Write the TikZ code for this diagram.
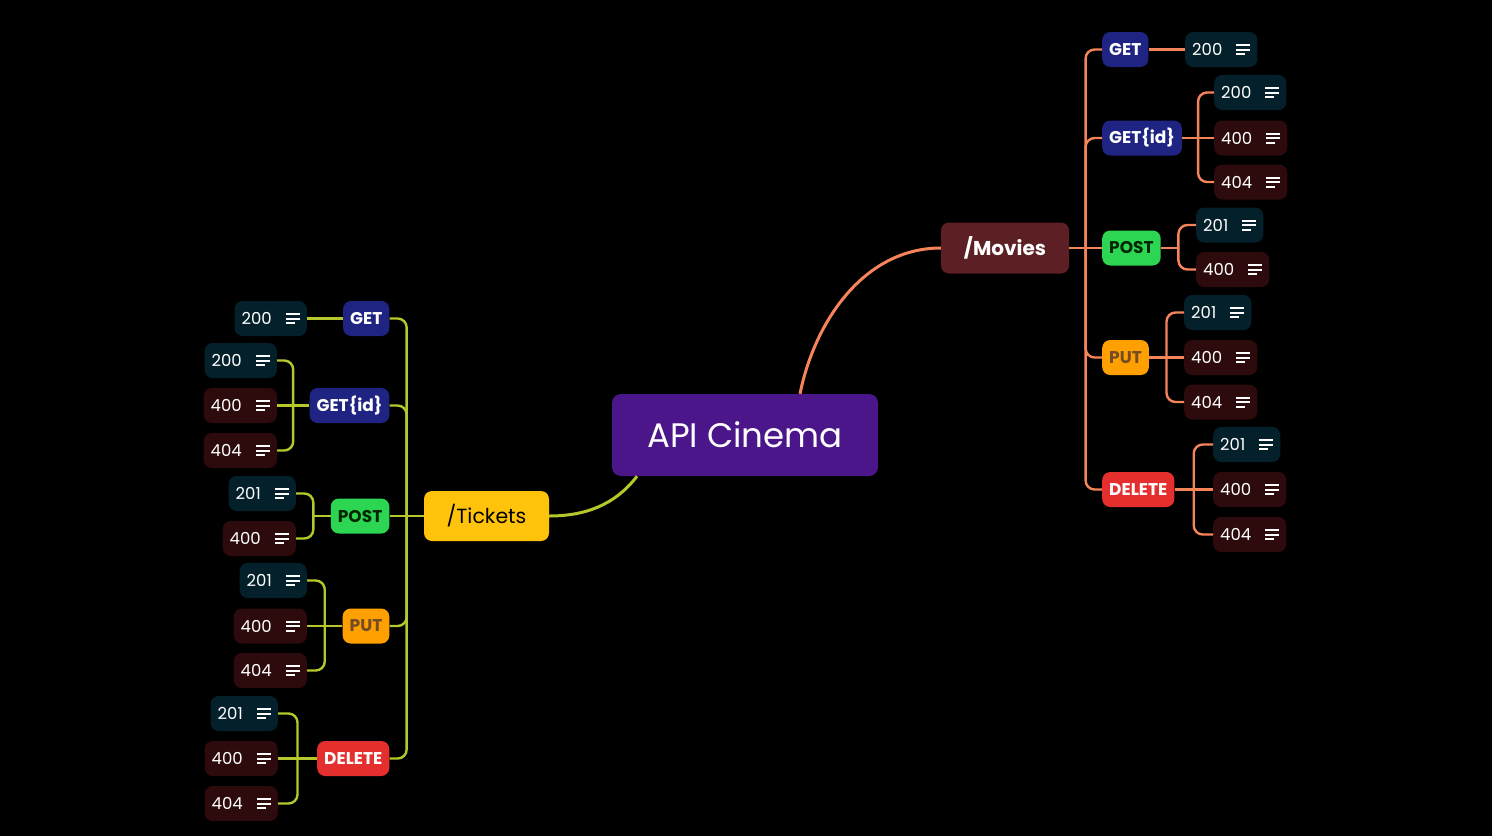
\documentclass[tikz,border=0pt]{standalone}
\usepackage{fontspec}
\setmainfont{Poppins}
\usetikzlibrary{calc}

\definecolor{rootpurple}{HTML}{4B168A}
\definecolor{moviesred}{HTML}{5C1F24}
\definecolor{ticketsyellow}{HTML}{FFC30B}
\definecolor{getblue}{HTML}{1F2382}
\definecolor{postgreen}{HTML}{2CD653}
\definecolor{putorange}{HTML}{FFA000}
\definecolor{deletered}{HTML}{E52E2E}
\definecolor{okteal}{HTML}{04202A}
\definecolor{errred}{HTML}{2D0B0C}
\definecolor{coral}{HTML}{F5845A}
\definecolor{lime}{HTML}{B5C72A}

% notes icon: three bars
\newcommand\notes{\raisebox{0.5pt}{\vbox{\hrule width 14pt height 1.8pt\vskip 2.7pt
  \hrule width 14pt height 1.8pt\vskip 2.7pt\hrule width 9pt height 1.8pt}}}

\tikzset{
  box/.style={rounded corners=8pt, inner ysep=0pt, inner xsep=7pt, minimum height=35pt},
  leaf/.style={box, text=white, font=\fontsize{16.5}{16}\selectfont},
  verb/.style={box, font=\fontsize{17}{17}\selectfont\bfseries},
  rline/.style={coral, line width=2.4pt},
  lline/.style={lime, line width=2.4pt}
}

% connectors: straight to the trunk, then round into the child
\newcommand\rlink[2]{%
  \path ($(#1.east)!.5!(#2.west)$) coordinate (mid);
  \draw[rline] (#1.east) -- (#1.east -| mid);
  \draw[rline, rounded corners=9pt] (#1.east -| mid) |- (#2.west);}
\newcommand\llink[2]{%
  \path ($(#1.west)!.5!(#2.east)$) coordinate (mid);
  \draw[lline] (#1.west) -- (#1.west -| mid);
  \draw[lline, rounded corners=9pt] (#1.west -| mid) |- (#2.east);}
% child on the same level as its parent
\newcommand\rstraight[2]{\draw[rline] (#1.east) -- (#2.west);}
\newcommand\lstraight[2]{\draw[lline] (#1.west) -- (#2.east);}

\begin{document}
\begin{tikzpicture}[x=1pt, y=-1pt]
  \fill[black] (0,0) rectangle (1492,836);

  \node[rounded corners=9pt, fill=rootpurple, text=white, minimum width=266pt, minimum height=82pt,
    font=\fontsize{34}{34}\selectfont] (root) at (745,435) {API Cinema};
  \node[rounded corners=8pt, fill=moviesred, text=white, minimum width=128pt, minimum height=51pt,
    font=\fontsize{20}{20}\selectfont\bfseries] (movies) at (1005,248) {/Movies};
  \node[rounded corners=8pt, fill=ticketsyellow, text=black, minimum width=125pt, minimum height=50pt,
    font=\fontsize{20.5}{20}\selectfont] (tickets) at (486.5,516) {/Tickets};

  \draw[rline, line width=3pt] ([xshift=55pt]root.north) .. controls (815,320) and (865,248) .. (movies.west);
  \draw[lline, line width=3pt] ([xshift=-108pt]root.south) .. controls (615,505) and (585,516) .. (tickets.east);

  % /Movies
  \node[verb, fill=getblue, text=white, anchor=west] (mget) at (1102,49.5) {GET};
  \node[verb, fill=getblue, text=white, anchor=west] (mgetid) at (1102,138) {GET\{id\}};
  \node[verb, fill=postgreen, text=black!85!green, anchor=west] (mpost) at (1102,248) {POST};
  \node[verb, fill=putorange, text=brown!60!black, anchor=west] (mput) at (1102,357.5) {PUT};
  \node[verb, fill=deletered, text=white, anchor=west] (mdel) at (1102,489.5) {DELETE};
  \foreach \v in {mget, mgetid, mput, mdel}
    \rlink{movies}{\v};
  \rstraight{movies}{mpost};

  \node[leaf, fill=okteal, anchor=west] (mget200) at (1185,49.5) {200\hspace{14pt}\notes};
  \rstraight{mget}{mget200};
  \foreach \code/\shade/\y in {200/okteal/92.5, 400/errred/138, 404/errred/182}
    \node[leaf, fill=\shade, anchor=west] (mgetid\code) at (1214,\y) {\code\hspace{14pt}\notes};
  \rlink{mgetid}{mgetid200}; \rstraight{mgetid}{mgetid400}; \rlink{mgetid}{mgetid404};
  \foreach \code/\shade/\y in {201/okteal/225, 400/errred/269.5} {
    \node[leaf, fill=\shade, anchor=west] (mpost\code) at (1196,\y) {\code\hspace{14pt}\notes};
    \rlink{mpost}{mpost\code};
  }
  \foreach \code/\shade/\y in {201/okteal/312.5, 400/errred/357.5, 404/errred/402}
    \node[leaf, fill=\shade, anchor=west] (mput\code) at (1184,\y) {\code\hspace{14pt}\notes};
  \rlink{mput}{mput201}; \rstraight{mput}{mput400}; \rlink{mput}{mput404};
  \foreach \code/\shade/\y in {201/okteal/444.5, 400/errred/489.5, 404/errred/534.5}
    \node[leaf, fill=\shade, anchor=west] (mdel\code) at (1213,\y) {\code\hspace{14pt}\notes};
  \rlink{mdel}{mdel201}; \rstraight{mdel}{mdel400}; \rlink{mdel}{mdel404};

  % /Tickets
  \node[verb, fill=getblue, text=white, anchor=east] (tget) at (389.5,318.5) {GET};
  \node[verb, fill=getblue, text=white, anchor=east] (tgetid) at (389.5,405.5) {GET\{id\}};
  \node[verb, fill=postgreen, text=black!85!green, anchor=east] (tpost) at (389.5,516) {POST};
  \node[verb, fill=putorange, text=brown!60!black, anchor=east] (tput) at (389.5,626) {PUT};
  \node[verb, fill=deletered, text=white, anchor=east] (tdel) at (389.5,758.5) {DELETE};
  \foreach \v in {tget, tgetid, tput, tdel}
    \llink{tickets}{\v};
  \lstraight{tickets}{tpost};

  \node[leaf, fill=okteal, anchor=east] (tget200) at (307,318.5) {200\hspace{14pt}\notes};
  \lstraight{tget}{tget200};
  \foreach \code/\shade/\y in {200/okteal/360.5, 400/errred/405.5, 404/errred/450.5}
    \node[leaf, fill=\shade, anchor=east] (tgetid\code) at (277,\y) {\code\hspace{14pt}\notes};
  \llink{tgetid}{tgetid200}; \lstraight{tgetid}{tgetid400}; \llink{tgetid}{tgetid404};
  \foreach \code/\shade/\y in {201/okteal/493.5, 400/errred/538.5} {
    \node[leaf, fill=\shade, anchor=east] (tpost\code) at (296,\y) {\code\hspace{14pt}\notes};
    \llink{tpost}{tpost\code};
  }
  \foreach \code/\shade/\y in {201/okteal/580.5, 400/errred/626, 404/errred/670.5}
    \node[leaf, fill=\shade, anchor=east] (tput\code) at (307,\y) {\code\hspace{14pt}\notes};
  \llink{tput}{tput201}; \lstraight{tput}{tput400}; \llink{tput}{tput404};
  \foreach \code/\shade/\y in {201/okteal/713.5, 400/errred/758.5, 404/errred/803.5}
    \node[leaf, fill=\shade, anchor=east] (tdel\code) at (278,\y) {\code\hspace{14pt}\notes};
  \llink{tdel}{tdel201}; \lstraight{tdel}{tdel400}; \llink{tdel}{tdel404};
\end{tikzpicture}
\end{document}
